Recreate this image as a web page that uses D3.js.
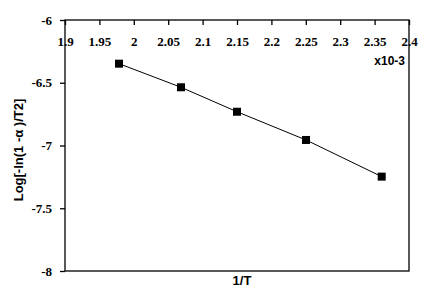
<!DOCTYPE html>
<html>
<head>
<meta charset="utf-8">
<script src="https://cdn.jsdelivr.net/npm/d3@7"></script>
<style>
body { margin: 0; background: #fff; }
.lbl { font-family: "Liberation Sans", Arial, sans-serif; font-weight: bold; fill: #000; }
</style>
</head>
<body>
<svg id="chart"></svg>
<script>
const invT = [1.9785, 2.0686, 2.15, 2.2503, 2.3603];
const logVal = [-6.348, -6.536, -6.731, -6.956, -7.248];
const xTicks = [1.9, 1.95, 2, 2.05, 2.1, 2.15, 2.2, 2.25, 2.3, 2.35, 2.4];
const yTicks = [-6, -6.5, -7, -7.5, -8];

const SVG_WIDTH = 426;
const SVG_HEIGHT = 298;
const MARGIN = { top: 20, right: 17, bottom: 27, left: 65 };
const WIDTH = SVG_WIDTH - MARGIN.left - MARGIN.right;
const HEIGHT = SVG_HEIGHT - MARGIN.top - MARGIN.bottom;

const x = d3.scaleLinear().domain([1.9, 2.4]).range([0, WIDTH]);
const y = d3.scaleLinear().domain([-8, -6]).range([HEIGHT, 0]);

const svg = d3.select('#chart')
	.attr('width', SVG_WIDTH)
	.attr('height', SVG_HEIGHT)
.append('g')
	.attr('transform', 'translate(' + MARGIN.left + ', ' + MARGIN.top + ')');

// frame
svg.append('rect')
	.attr('width', WIDTH)
	.attr('height', HEIGHT)
	.attr('fill', 'none')
	.attr('stroke', '#000')
	.attr('stroke-width', 1.3);

function styleAxis(g) {
	g.select('.domain').remove();
	g.selectAll('line').attr('stroke', '#000').attr('stroke-width', 1.3);
	g.selectAll('text')
		.style('font-family', "'Liberation Serif', 'Times New Roman', serif")
		.style('font-size', '13px')
		.style('font-weight', 'bold')
		.style('fill', '#000');
}

// X-Axis (along the top, labels inside)
svg.append('g')
	.call(d3.axisBottom(x).tickValues(xTicks).tickSize(5).tickPadding(12)
		.tickFormat(d => String(+d.toFixed(2))))
	.call(styleAxis);

// Y-Axis
svg.append('g')
	.call(d3.axisLeft(y).tickValues(yTicks).tickSize(5).tickPadding(8)
		.tickFormat(d => String(d)))
	.call(styleAxis);

svg.append('text')
	.attr('class', 'lbl')
	.attr('x', WIDTH - 4)
	.attr('y', 45)
	.attr('text-anchor', 'end')
	.style('font-size', '12px')
	.text('x10-3');

svg.append('text')
	.attr('class', 'lbl')
	.attr('text-anchor', 'middle')
	.attr('transform', 'translate(' + (242 - MARGIN.left) + ', ' + (HEIGHT + 14) + ')')
	.style('font-size', '13px')
	.text('1/T');

svg.append('text')
	.attr('class', 'lbl')
	.attr('transform', 'translate(' + (23 - MARGIN.left) + ', ' + (150 - MARGIN.top) + ') rotate(-90)')
	.attr('text-anchor', 'middle')
	.style('font-size', '13px')
	.text('Log[-ln(1 -α )/T2]');

const pts = invT.map((v, i) => ({ x: v, y: logVal[i] }));

svg.append('path')
	.datum(pts)
	.attr('fill', 'none')
	.attr('stroke', '#000')
	.attr('stroke-width', 1)
	.attr('d', d3.line().x(d => x(d.x)).y(d => y(d.y)));

svg.selectAll('.pt')
	.data(pts)
	.enter()
	.append('rect')
		.attr('class', 'pt')
		.attr('x', d => x(d.x) - 4)
		.attr('y', d => y(d.y) - 4)
		.attr('width', 8)
		.attr('height', 8)
		.attr('fill', '#000');
</script>
</body>
</html>
